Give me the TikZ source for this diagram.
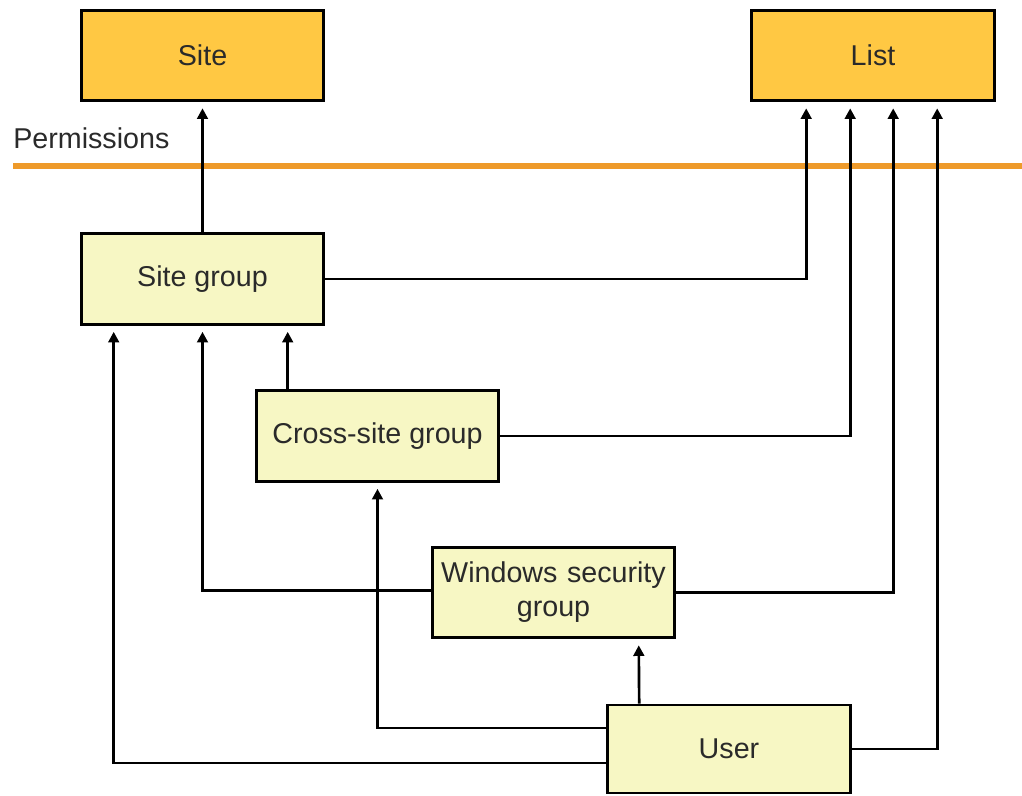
\documentclass[tikz,border=0pt]{standalone}
\usepackage{fontspec}
\setmainfont{Liberation Sans}
\usetikzlibrary{arrows.meta,calc}
\definecolor{topfill}{HTML}{FFC843}
\definecolor{lowfill}{HTML}{F7F7C4}
\definecolor{permline}{HTML}{EE9A2A}
\definecolor{txt}{HTML}{2A2A2A}
\tikzset{
  box/.style={draw=black,line width=2.2pt,minimum width=182pt,minimum height=68pt,inner sep=2pt,align=center,font=\fontsize{21.5}{25.5}\selectfont,text=txt},
  topbox/.style={box,fill=topfill},
  lowbox/.style={box,fill=lowfill},
  arr/.style={draw=black,line width=2pt,-{Triangle[length=8pt,width=8pt]},shorten >=4.5pt},
}
\begin{document}
\begin{tikzpicture}[x=0.75pt,y=-0.75pt]
\useasboundingbox (0,0) rectangle (1022,796);
\node[topbox] (site) at (202.5,55.5) {Site};
\node[topbox] (list) at (873,55.5) {List};
\node[anchor=west,inner sep=0pt,font=\fontsize{21.5}{25.5}\selectfont,text=txt] (perm) at (13,138) {Permissions};
\coordinate (pl) at (13,166);
\coordinate (pr) at (1022,166);
\draw[permline,line width=3.8pt] (pl) -- (pr);
\node[lowbox] (sg) at (202.5,279) {Site group};
\node[lowbox] (cs) at (377.5,436) {Cross-site group};
\node[lowbox,text width=178pt] (ws) at (553.5,592.5) {Windows security\\group};
\node[lowbox,minimum height=66pt] (user) at (729,749) {User};
% to site
\draw[arr] (sg.north) -- (site.south);
% to list
\draw[arr] (sg.east) -| ($(list.south west)+(56,0)$);
\draw[arr] (cs.east) -| ($(list.south west)+(100,0)$);
\draw[arr] (ws.east) -| ($(list.south west)+(143,0)$);
\draw[arr] (user.east) -| ($(list.south west)+(187,0)$);
% to site group
\draw[arr] ($(cs.north west)+(33,0)$) -- ($(sg.south west)+(208,0)$);
\draw[arr] ($(ws.west)+(0,-2)$) -| (sg.south);
\draw[arr] ($(user.west)+(0,14)$) -| ($(sg.south west)+(34,0)$);
% to cross-site
\draw[arr] ($(user.west)+(0,-21)$) -| (cs.south);
% to windows
\draw[arr] ($(user.north west)+(33,0)$) -- ($(ws.south west)+(208,0)$);
\end{tikzpicture}
\end{document}
